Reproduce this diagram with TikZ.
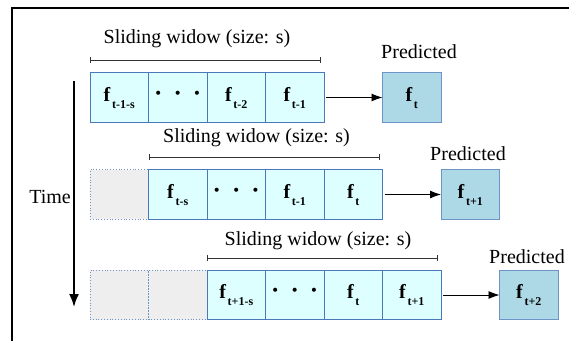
\documentclass[tikz,border=0pt]{standalone}
\usepackage{fontspec}
\setmainfont{Liberation Serif}
\usetikzlibrary{arrows.meta}
\definecolor{cellcyan}{HTML}{DDFFFF}
\definecolor{boxblue}{HTML}{4A78B8}
\definecolor{predblue}{HTML}{ADD8E6}
\definecolor{emptygray}{HTML}{EEEEEE}
\newcommand{\fsub}[1]{\textbf{f}\kern1.5pt\raisebox{-7pt}{\fontsize{12}{12}\selectfont\bfseries #1}}
\newcommand{\mydots}{{\fontsize{25}{25}\selectfont\textbf{·}\hspace{11pt}\textbf{·}\hspace{11pt}\textbf{·}}}
\tikzset{
  base/.style={minimum width=58.5pt, minimum height=49.5pt, inner sep=0pt, outer sep=0pt,
    line width=0.8pt, text height=14pt, text depth=7pt, font=\fontsize{20}{20}\selectfont},
  cell/.style={base, draw=boxblue, fill=cellcyan},
  pred/.style={base, draw=boxblue!80, fill=predblue},
  empty/.style={base, draw=boxblue!80, fill=emptygray, dotted},
  lbl/.style={font=\fontsize{20}{20}\selectfont, inner sep=0pt, anchor=base},
  bracket/.style={draw=black!80, line width=0.9pt, {Bar[width=6pt]}-{Bar[width=6pt]}},
  conn/.style={draw=black, line width=0.9pt, -{Latex[length=11pt,width=8pt]}, shorten <=2pt},
}
\begin{document}
\begin{tikzpicture}[x=1pt,y=-1pt]
\useasboundingbox (0,0) rectangle (569,341);
% frame
\draw[line width=1.1pt] (12,341) -- (12,8) -- (569,8);
% row 1
\node[cell] (a0) at (119.25,97.5) {\fsub{t-1-s}};
\node[cell] (a1) at (177.75,97.5) {\mydots};
\node[cell] (a2) at (236.25,97.5) {\fsub{t-2}};
\node[cell] (a3) at (294.75,97.5) {\fsub{t-1}};
\node[pred] (ap) at (411.75,97.5) {\fsub{t}};
\draw[conn] (a3) -- (ap);
\coordinate (ab1) at (90,60);
\coordinate (ab2) at (321,60);
\draw[bracket] (ab1) -- (ab2);
\node[lbl] (at) at (197,43) {Sliding widow (size: s)};
\node[lbl] (apl) at (419,58) {Predicted};
% row 2
\node[empty] (b0) at (119.25,194.5) {};
\node[cell] (b1) at (177.75,194.5) {\fsub{t-s}};
\node[cell] (b2) at (236.25,194.5) {\mydots};
\node[cell] (b3) at (294.75,194.5) {\fsub{t-1}};
\node[cell] (b4) at (353.25,194.5) {\fsub{t}};
\node[pred] (bp) at (470.25,194.5) {\fsub{t+1}};
\draw[conn] (b4) -- (bp);
\coordinate (bb1) at (148.5,157);
\coordinate (bb2) at (380,157);
\draw[bracket] (bb1) -- (bb2);
\node[lbl] (bt) at (256.5,142) {Sliding widow (size: s)};
\node[lbl] (bpl) at (468,160) {Predicted};
% row 3
\node[empty] (c0) at (119.25,295) {};
\node[empty] (c1) at (177.75,295) {};
\node[cell] (c2) at (236.25,295) {\fsub{t+1-s}};
\node[cell] (c3) at (294.75,295) {\mydots};
\node[cell] (c4) at (353.25,295) {\fsub{t}};
\node[cell] (c5) at (411.75,295) {\fsub{t+1}};
\node[pred] (cp) at (528.75,295) {\fsub{t+2}};
\draw[conn] (c5) -- (cp);
\coordinate (cb1) at (207,258);
\coordinate (cb2) at (438,258);
\draw[bracket] (cb1) -- (cb2);
\node[lbl] (ct) at (318,245) {Sliding widow (size: s)};
\node[lbl] (cpl) at (527,263) {Predicted};
% time
\coordinate (t1) at (74,81);
\coordinate (t2) at (74,307);
\draw[line width=1.8pt, -{Latex[length=13pt,width=10pt]}] (t1) -- (t2);
\node[lbl, anchor=base east] (time) at (71,203) {Time};
\end{tikzpicture}
\end{document}
